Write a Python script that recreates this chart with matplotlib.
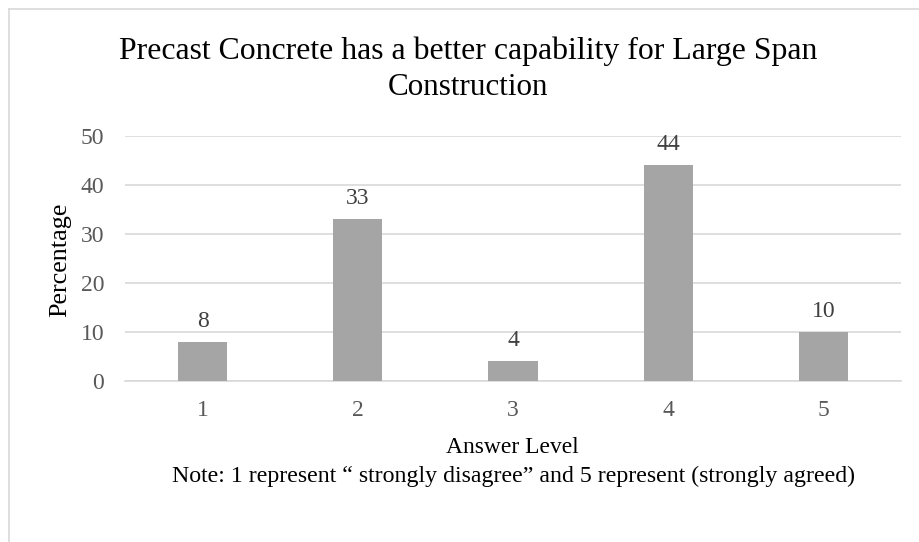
import matplotlib.pyplot as plt
from matplotlib.lines import Line2D

plt.rcParams['font.family'] = ['Liberation Serif', 'DejaVu Serif']

# data
levels = ["1", "2", "3", "4", "5"]
percentages = [8, 33, 4, 44, 10]
y_ticks = [0, 10, 20, 30, 40, 50]

title_1 = "Precast Concrete has a better capability for Large Span"
title_2 = "Construction"
x_title = "Answer Level"
y_title = "Percentage"
note = "Note: 1 represent \u201c strongly disagree\u201d and 5 represent (strongly agreed)"

W, H = 919, 542
fig = plt.figure(figsize=(W / 100, H / 100), dpi=100)
renderer = fig.canvas.get_renderer()


def px(xp, yp):
    # pixel position (from top-left) -> figure fraction
    return xp / W, 1 - yp / H


def fitted_text(xp, yp, s, width_px, size0=14, rotation=0, **kw):
    t = fig.text(*px(xp, yp), s, fontsize=size0, rotation=rotation,
                 ha="center", **kw)
    bb = t.get_window_extent(renderer)
    cur = bb.height if rotation else bb.width
    t.set_fontsize(size0 * width_px / cur)
    return t


# outer chart border (top and left only visible)
fig.add_artist(Line2D([9 / W, 9 / W], [0, 1 - 9 / H], transform=fig.transFigure,
                      color="#d9d9d9", linewidth=1.2))
fig.add_artist(Line2D([9 / W, 1], [1 - 9 / H, 1 - 9 / H], transform=fig.transFigure,
                      color="#d9d9d9", linewidth=1.2))

# plot area: x 125..901, y 136 (50) .. 381 (0)
ax = fig.add_axes([125 / W, 1 - 381 / H, 776 / W, 245 / H])
x = range(len(levels))
ax.bar(x, percentages, width=0.316, color="#a5a5a5", zorder=3)
for xi, v in zip(x, percentages):
    ax.annotate(str(v), (xi, v), xytext=(0, 11), textcoords="offset points",
                ha="center", va="baseline", fontsize=17, color="#404040")

ax.set_xlim(-0.5, len(levels) - 0.5)
ax.set_ylim(0, 50)
ax.set_yticks(y_ticks)
ax.set_xticks(list(x))
ax.set_xticklabels(levels)
ax.yaxis.grid(True, color="#d9d9d9", linewidth=1.2, zorder=0)
ax.set_axisbelow(True)
for s in ["top", "right", "left"]:
    ax.spines[s].set_visible(False)
ax.spines["bottom"].set_color("#d9d9d9")
ax.spines["bottom"].set_linewidth(1.2)
ax.tick_params(axis="both", length=0, labelsize=17, labelcolor="#595959")
ax.tick_params(axis="x", pad=14)
ax.tick_params(axis="y", pad=15)

# titles and notes, fitted to the reference text widths
fitted_text(468, 59, title_1, 700, va="baseline")
fitted_text(468, 95, title_2, 162, va="baseline")
fitted_text(512.5, 453, x_title, 133, va="baseline")
fitted_text(513.5, 482, note, 687, va="baseline")
fitted_text(60, 259.5, y_title, 115, rotation=90, va="center")

fig.savefig("out.png", dpi=100)
